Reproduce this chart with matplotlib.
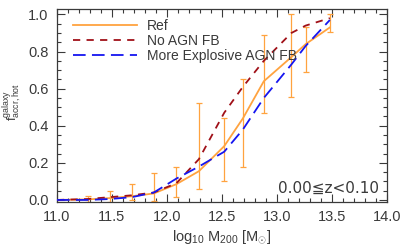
import numpy as np
import matplotlib
matplotlib.use("Agg")
import matplotlib.pyplot as plt
from matplotlib.ticker import MultipleLocator

# ---- data ----
mass = [11.0, 11.28, 11.48, 11.68, 11.88, 12.085, 12.29, 12.52, 12.69, 12.88, 13.13, 13.26, 13.48]
ref = [0.0, 0.003, 0.01, 0.02, 0.035, 0.085, 0.155, 0.29, 0.44, 0.64, 0.77, 0.84, 0.93]
ref_lo = [np.nan, -0.01, -0.01, 0.0, -0.005, 0.018, 0.058, 0.10, 0.18, 0.47, 0.555, 0.69, 0.905]
ref_hi = [np.nan, 0.02, 0.05, 0.085, 0.145, 0.175, 0.52, 0.44, 0.65, 0.89, 1.0, 0.93, 1.0]
no_agn = [0.0, 0.005, 0.015, 0.025, 0.04, 0.09, 0.22, 0.47, 0.61, 0.75, 0.90, 0.94, 0.98]
more_expl = [0.0, 0.0, 0.005, 0.015, 0.04, 0.115, 0.18, 0.26, 0.38, 0.55, 0.73, 0.83, 0.97]
labels = ["Ref", "No AGN FB", "More Explosive AGN FB"]
zlabel = "0.00\u2266z<0.10"

c_ref = "#FFA33F"
c_no = "#A01018"
c_me = "#1515F0"
tc = "#3a3a3a"

plt.rcParams['font.family'] = ['Liberation Sans', 'DejaVu Sans']
plt.rcParams['mathtext.fontset'] = 'custom'
plt.rcParams['mathtext.rm'] = 'Liberation Sans'
plt.rcParams['mathtext.it'] = 'Liberation Sans'
fig = plt.figure(figsize=(4.07, 2.47), dpi=100)
ax = fig.add_axes([0.140, 0.183, 0.811, 0.781])

m = np.array(mass)
r = np.array(ref)
lo = np.array(ref_lo)
hi = np.array(ref_hi)
ok = ~np.isnan(lo)
ax.errorbar(m[ok], r[ok], yerr=[r[ok] - lo[ok], hi[ok] - r[ok]], fmt='none',
            ecolor=c_ref, elinewidth=0.9, capsize=2, capthick=0.9, zorder=2)
ax.plot(mass, ref, color=c_ref, lw=1.3, label=labels[0], zorder=3)
ax.plot(mass, no_agn, color=c_no, lw=1.3, dashes=(4, 3.5), label=labels[1], zorder=3)
ax.plot(mass, more_expl, color=c_me, lw=1.3, dashes=(7, 3.5), label=labels[2], zorder=3)

ax.set_xlim(11.0, 14.0)
ax.set_ylim(-0.01, 1.03)
ax.xaxis.set_major_locator(MultipleLocator(0.5))
ax.xaxis.set_minor_locator(MultipleLocator(0.1))
ax.yaxis.set_major_locator(MultipleLocator(0.2))
ax.yaxis.set_minor_locator(MultipleLocator(0.05))
ax.xaxis.set_major_formatter(plt.FormatStrFormatter('%.1f'))
ax.yaxis.set_major_formatter(plt.FormatStrFormatter('%.1f'))
ax.tick_params(which='both', direction='in', top=True, right=True, colors=tc, labelcolor=tc, width=0.8)
ax.tick_params(which='major', length=6, labelsize=10.5, pad=6)
ax.tick_params(which='minor', length=3)
for s in ax.spines.values():
    s.set_color(tc)
    s.set_linewidth(0.9)

ax.set_xlabel(r"log$_{10}$ M$_{200}$ [M$_{\odot}$]", fontsize=10.5, color=tc, labelpad=3)
ax.set_ylabel(r"f$^{\rm galaxy}_{\rm accr,hot}$", fontsize=9, color=tc)
ax.yaxis.set_label_coords(-0.10, 0.52)

leg = ax.legend(loc='upper left', frameon=False, fontsize=10, handlelength=4.6,
                handletextpad=0.7, labelspacing=0.08, borderaxespad=0.3,
                bbox_to_anchor=(0.02, 1.0))
for t in leg.get_texts():
    t.set_color(tc)

ax.text(0.975, 0.03, zlabel, transform=ax.transAxes, ha='right', va='bottom',
        fontsize=11, color=tc, family=['DejaVu Sans'])

fig.savefig("out.png", dpi=100)
